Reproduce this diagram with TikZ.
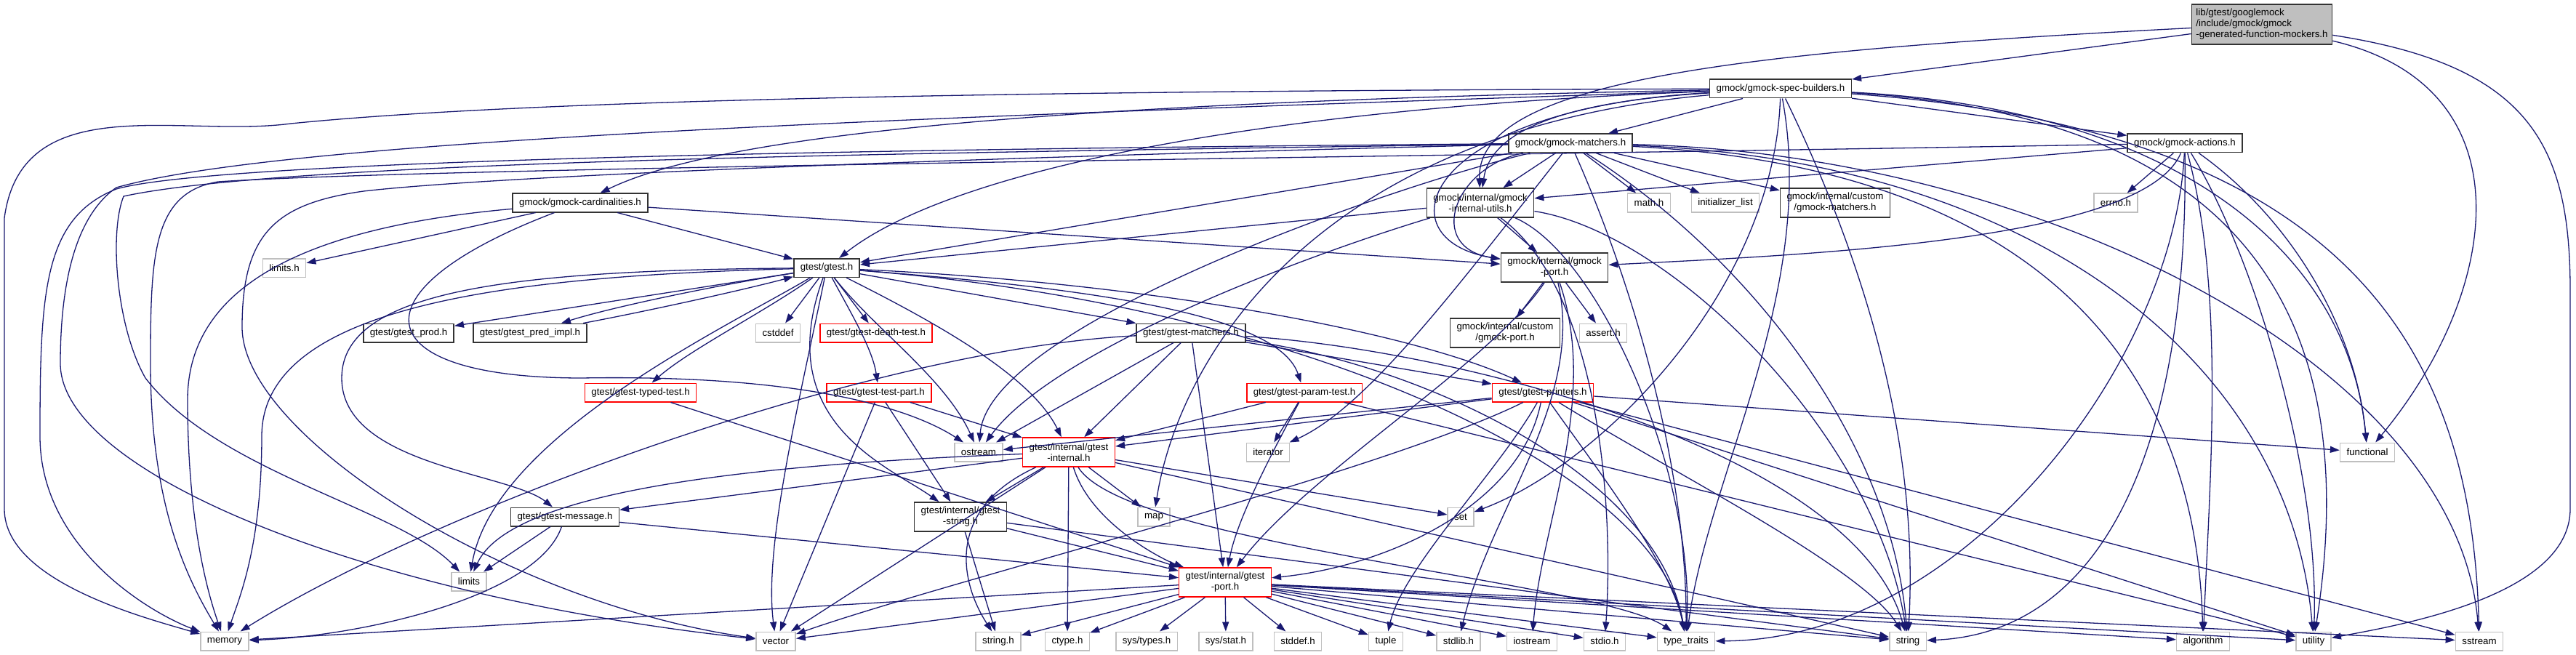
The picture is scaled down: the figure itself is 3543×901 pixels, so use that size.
\documentclass[tikz,border=0pt]{standalone}
\usepackage{fontspec}
\setmainfont{Liberation Sans}
\usepackage{xcolor}
\usetikzlibrary{arrows.meta}
\definecolor{edgeBlue}{RGB}{25,25,112}
\definecolor{sysGray}{RGB}{191,191,191}
\definecolor{rootGray}{RGB}{191,191,191}

\begin{document}
\begin{tikzpicture}[
  x=1pt, y=-1pt,
  box/.style={draw=black!80, line width=1.5pt, fill=white, align=center, inner xsep=9pt, inner ysep=2pt,
    minimum height=25.5pt, font=\fontsize{13.3pt}{15pt}\selectfont},
  sysbox/.style={box, draw=sysGray},
  redbox/.style={box, draw=red},
  twoline/.style={minimum height=40pt},
  rootbox/.style={box, fill=rootGray, align=left, inner xsep=6pt, minimum height=55pt},
  arrow/.style={-{Triangle[length=13pt,width=9pt]}, line width=1.3pt, draw=edgeBlue}
]
\useasboundingbox (0,0) rectangle (3543,901);

\node[rootbox] (rootHeader) at (3111,33.5) {lib/gtest/googlemock\\/include/gmock/gmock\\-generated-function-mockers.h};
\node[box] (specBuilders) at (2449,122) {gmock/gmock-spec-builders.h};
\node[box] (gmockMatchers) at (2160,197) {gmock/gmock-matchers.h};
\node[box] (gmockActions) at (3005,197) {gmock/gmock-actions.h};
\node[box] (cardinalities) at (798,279) {gmock/gmock-cardinalities.h};
\node[box, twoline] (internalUtils) at (2036,279) {gmock/internal/gmock\\-internal-utils.h};
\node[sysbox] (mathH) at (2268,279) {math.h};
\node[sysbox] (initializerList) at (2373,279) {initializer\_list};
\node[box, twoline] (customMatchers) at (2524,279) {gmock/internal/custom\\/gmock-matchers.h};
\node[sysbox] (errnoH) at (2910,279) {errno.h};
\node[sysbox] (limitsH) at (391,368.5) {limits.h};
\node[box] (gtestH) at (1137,368.5) {gtest/gtest.h};
\node[box, twoline] (gmockPort) at (2138,368) {gmock/internal/gmock\\-port.h};
\node[box] (gtestProd) at (562,458) {gtest/gtest\_prod.h};
\node[box] (gtestPredImpl) at (729,458) {gtest/gtest\_pred\_impl.h};
\node[sysbox] (cstddef) at (1070,458) {cstddef};
\node[redbox] (deathTest) at (1205,458) {gtest/gtest-death-test.h};
\node[box] (gtestMatchers) at (1638,458) {gtest/gtest-matchers.h};
\node[box, twoline] (customPort) at (2070,458) {gmock/internal/custom\\/gmock-port.h};
\node[sysbox] (assertH) at (2205,458) {assert.h};
\node[redbox] (typedTest) at (881,540) {gtest/gtest-typed-test.h};
\node[redbox] (testPart) at (1209,540) {gtest/gtest-test-part.h};
\node[redbox] (paramTest) at (1794,540) {gtest/gtest-param-test.h};
\node[redbox] (printers) at (2122,540) {gtest/gtest-printers.h};
\node[sysbox] (ostream) at (1346,622) {ostream};
\node[redbox, twoline] (gtestInternal) at (1470,622) {gtest/internal/gtest\\-internal.h};
\node[sysbox] (iterator) at (1744,622) {iterator};
\node[sysbox] (functional) at (3256,622) {functional};
\node[box] (message) at (777,711) {gtest/gtest-message.h};
\node[box, twoline] (gtestString) at (1321,711) {gtest/internal/gtest\\-string.h};
\node[sysbox] (map) at (1587,711) {map};
\node[sysbox] (set) at (2009,711) {set};
\node[sysbox] (limits) at (645,800) {limits};
\node[redbox, twoline] (gtestPort) at (1685,801) {gtest/internal/gtest\\-port.h};
\node[sysbox] (memory) at (309,882) {memory};
\node[sysbox] (vector) at (1067,882) {vector};
\node[sysbox] (stringH) at (1373,882) {string.h};
\node[sysbox] (ctypeH) at (1468,882) {ctype.h};
\node[sysbox] (sysTypes) at (1577,882) {sys/types.h};
\node[sysbox] (sysStat) at (1686,882) {sys/stat.h};
\node[sysbox] (stddefH) at (1785,882) {stddef.h};
\node[sysbox] (tuple) at (1906,882) {tuple};
\node[sysbox] (stdlibH) at (2006,882) {stdlib.h};
\node[sysbox] (iostream) at (2107,882) {iostream};
\node[sysbox] (stdioH) at (2207,882) {stdio.h};
\node[sysbox] (typeTraits) at (2319,882) {type\_traits};
\node[sysbox] (string) at (2624,882) {string};
\node[sysbox] (algorithm) at (3030,882) {algorithm};
\node[sysbox] (utility) at (3182,882) {utility};
\node[sysbox] (sstream) at (3410,882) {sstream};

\draw[arrow] (rootHeader) -- (specBuilders);
\draw[arrow] (rootHeader) .. controls (2400,70) and (2030,110) .. (internalUtils);
\draw[arrow] (rootHeader) .. controls (3480,120) and (3440,400) .. (functional);
\draw[arrow] (rootHeader) .. controls (3480,90) and (3535,200) .. (3535,400) -- (3535,700) .. controls (3535,820) and (3300,860) .. (utility);

\draw[arrow] (specBuilders) -- (gmockActions);
\draw[arrow] (specBuilders) -- (gmockMatchers);
\draw[arrow] (specBuilders) .. controls (2150,140) and (2050,180) .. (internalUtils);
\draw[arrow] (specBuilders) .. controls (1950,150) and (1900,330) .. (gmockPort);
\draw[arrow] (specBuilders) .. controls (1700,150) and (1300,240) .. (gtestH);
\draw[arrow] (specBuilders) .. controls (1500,140) and (1000,180) .. (cardinalities);
\draw[arrow] (specBuilders) .. controls (1800,180) and (1620,500) .. (map);
\draw[arrow] (specBuilders) .. controls (2440,400) and (2200,640) .. (set);
\draw[arrow] (specBuilders) .. controls (2500,400) and (2350,650) .. (typeTraits);
\draw[arrow] (specBuilders) .. controls (2560,350) and (2640,600) .. (string);
\draw[arrow] (specBuilders) .. controls (3000,150) and (3230,350) .. (functional);
\draw[arrow] (specBuilders) .. controls (3100,160) and (3250,450) .. (utility);
\draw[arrow] (specBuilders) .. controls (3250,180) and (3400,500) .. (sstream);
\draw[arrow] (specBuilders) .. controls (1300,125) and (700,140) .. (400,170) .. controls (250,190) and (30,120) .. (6,300) -- (6,700) .. controls (6,800) and (200,850) .. (memory);
\draw[arrow] (specBuilders) .. controls (1300,160) and (400,190) .. (160,258) .. controls (100,300) and (83,400) .. (83,500) .. controls (83,650) and (500,820) .. (vector);

\draw[arrow] (gmockMatchers) -- (internalUtils);
\draw[arrow] (gmockMatchers) -- (mathH);
\draw[arrow] (gmockMatchers) -- (initializerList);
\draw[arrow] (gmockMatchers) -- (customMatchers);
\draw[arrow] (gmockMatchers) .. controls (2000,230) and (1960,340) .. (gmockPort);
\draw[arrow] (gmockMatchers) -- (gtestH);
\draw[arrow] (gmockMatchers) .. controls (1900,260) and (1360,450) .. (ostream);
\draw[arrow] (gmockMatchers) .. controls (2000,400) and (1880,560) .. (iterator);
\draw[arrow] (gmockMatchers) .. controls (2250,400) and (2320,650) .. (typeTraits);
\draw[arrow] (gmockMatchers) .. controls (2400,350) and (2600,600) .. (string);
\draw[arrow] (gmockMatchers) .. controls (2800,230) and (3020,500) .. (algorithm);
\draw[arrow] (gmockMatchers) .. controls (2800,220) and (3150,500) .. (utility);
\draw[arrow] (gmockMatchers) .. controls (2800,210) and (3380,500) .. (sstream);
\draw[arrow] (gmockMatchers) .. controls (1200,205) and (300,220) .. (160,260) .. controls (60,300) and (55,400) .. (55,600) .. controls (55,750) and (200,840) .. (memory);
\draw[arrow] (gmockMatchers) .. controls (1400,215) and (700,240) .. (500,263) .. controls (380,280) and (333,320) .. (333,450) .. controls (333,600) and (700,830) .. (vector);
\draw[arrow] (gmockMatchers) .. controls (1300,210) and (400,220) .. (170,270) .. controls (150,320) and (160,450) .. (200,520) .. controls (300,650) and (550,700) .. (limits);

\draw[arrow] (gmockActions) -- (errnoH);
\draw[arrow] (gmockActions) -- (internalUtils);
\draw[arrow] (gmockActions) .. controls (2950,330) and (2500,350) .. (gmockPort);
\draw[arrow] (gmockActions) .. controls (3060,400) and (3040,650) .. (algorithm);
\draw[arrow] (gmockActions) .. controls (3150,300) and (3240,450) .. (functional);
\draw[arrow] (gmockActions) .. controls (3100,350) and (3190,650) .. (utility);
\draw[arrow] (gmockActions) .. controls (3010,600) and (2900,870) .. (string);
\draw[arrow] (gmockActions) .. controls (2990,500) and (2700,880) .. (typeTraits);
\draw[arrow] (gmockActions) .. controls (2000,215) and (600,230) .. (300,250) .. controls (210,265) and (207,350) .. (207,500) .. controls (207,700) and (260,800) .. (memory);

\draw[arrow] (cardinalities) -- (limitsH);
\draw[arrow] (cardinalities) -- (gtestH);
\draw[arrow] (cardinalities) -- (gmockPort);
\draw[arrow] (cardinalities) .. controls (480,400) and (500,520) .. (800,520) .. controls (1100,515) and (1250,560) .. (ostream);
\draw[arrow] (cardinalities) .. controls (450,310) and (258,380) .. (258,550) .. controls (258,700) and (280,800) .. (memory);

\draw[arrow] (gtestH) -- (gtestProd);
\draw[arrow] (gtestH) .. controls (1000,390) and (850,420) .. (gtestPredImpl);
\draw[arrow] (gtestPredImpl) .. controls (870,432) and (1010,402) .. (gtestH);
\draw[arrow] (gtestH) -- (cstddef);
\draw[arrow] (gtestH) -- (deathTest);
\draw[arrow] (gtestH) .. controls (1050,430) and (950,480) .. (typedTest);
\draw[arrow] (gtestH) .. controls (1170,430) and (1200,480) .. (testPart);
\draw[arrow] (gtestH) -- (gtestMatchers);
\draw[arrow] (gtestH) .. controls (1550,400) and (1760,440) .. (paramTest);
\draw[arrow] (gtestH) .. controls (1600,390) and (1950,460) .. (printers);
\draw[arrow] (gtestH) .. controls (1300,450) and (1420,520) .. (gtestInternal);
\draw[arrow] (gtestH) .. controls (1060,580) and (1220,640) .. (gtestString);
\draw[arrow] (gtestH) .. controls (1200,450) and (1300,520) .. (ostream);
\draw[arrow] (gtestH) .. controls (1000,450) and (680,600) .. (limits);
\draw[arrow] (gtestH) .. controls (1100,550) and (1050,750) .. (vector);
\draw[arrow] (gtestH) .. controls (1800,420) and (2280,650) .. (typeTraits);
\draw[arrow] (gtestH) .. controls (700,372) and (470,400) .. (470,520) .. controls (470,640) and (700,650) .. (message);
\draw[arrow] (gtestH) .. controls (700,380) and (360,420) .. (360,600) .. controls (360,750) and (330,820) .. (memory);

\draw[arrow] (internalUtils) -- (gtestH);
\draw[arrow] (internalUtils) -- (gmockPort);
\draw[arrow] (internalUtils) .. controls (1800,350) and (1450,480) .. (ostream);
\draw[arrow] (internalUtils) .. controls (2200,400) and (2220,700) .. (stdioH);
\draw[arrow] (internalUtils) .. controls (2300,320) and (2580,600) .. (string);
\draw[arrow] (internalUtils) .. controls (2200,350) and (2330,650) .. (typeTraits);

\draw[arrow] (gmockPort) -- (customPort);
\draw[arrow] (gmockPort) -- (assertH);
\draw[arrow] (gmockPort) .. controls (2180,550) and (2050,700) .. (stdlibH);
\draw[arrow] (gmockPort) .. controls (2200,550) and (2120,720) .. (iostream);
\draw[arrow] (gmockPort) .. controls (2050,500) and (1800,650) .. (gtestPort);

\draw[arrow] (gtestMatchers) -- (printers);
\draw[arrow] (gtestMatchers) -- (gtestInternal);
\draw[arrow] (gtestMatchers) -- (ostream);
\draw[arrow] (gtestMatchers) -- (gtestPort);
\draw[arrow] (gtestMatchers) .. controls (1200,480) and (600,700) .. (memory);
\draw[arrow] (gtestMatchers) .. controls (2000,480) and (2550,620) .. (string);
\draw[arrow] (gtestMatchers) .. controls (1950,500) and (2280,650) .. (typeTraits);

\draw[arrow] (typedTest) -- (gtestPort);

\draw[arrow] (testPart) -- (vector);
\draw[arrow] (testPart) -- (gtestString);
\draw[arrow] (testPart) -- (gtestInternal);

\draw[arrow] (paramTest) -- (gtestInternal);
\draw[arrow] (paramTest) -- (iterator);
\draw[arrow] (paramTest) .. controls (1740,640) and (1700,720) .. (gtestPort);
\draw[arrow] (paramTest) -- (utility);

\draw[arrow] (printers) -- (functional);
\draw[arrow] (printers) -- (ostream);
\draw[arrow] (printers) -- (gtestInternal);
\draw[arrow] (printers) .. controls (1900,650) and (1300,800) .. (vector);
\draw[arrow] (printers) .. controls (2090,700) and (1900,780) .. (gtestPort);
\draw[arrow] (printers) .. controls (2060,650) and (1930,780) .. (tuple);
\draw[arrow] (printers) .. controls (2300,650) and (2560,780) .. (string);
\draw[arrow] (printers) .. controls (2200,650) and (2300,780) .. (typeTraits);
\draw[arrow] (printers) -- (utility);
\draw[arrow] (printers) -- (sstream);

\draw[arrow] (gtestInternal) -- (message);
\draw[arrow] (gtestInternal) .. controls (1000,640) and (700,680) .. (limits);
\draw[arrow] (gtestInternal) -- (vector);
\draw[arrow] (gtestInternal) -- (gtestString);
\draw[arrow] (gtestInternal) .. controls (1300,700) and (1320,800) .. (stringH);
\draw[arrow] (gtestInternal) -- (ctypeH);
\draw[arrow] (gtestInternal) -- (map);
\draw[arrow] (gtestInternal) -- (set);
\draw[arrow] (gtestInternal) .. controls (1500,720) and (1600,770) .. (gtestPort);
\draw[arrow] (gtestInternal) -- (string);
\draw[arrow] (gtestInternal) .. controls (1550,750) and (2200,800) .. (typeTraits);

\draw[arrow] (message) -- (limits);
\draw[arrow] (message) .. controls (740,820) and (500,875) .. (memory);
\draw[arrow] (message) -- (gtestPort);

\draw[arrow] (gtestString) -- (stringH);
\draw[arrow] (gtestString) -- (gtestPort);
\draw[arrow] (gtestString) -- (string);

\draw[arrow] (gtestPort) -- (memory);
\draw[arrow] (gtestPort) -- (vector);
\draw[arrow] (gtestPort) -- (stringH);
\draw[arrow] (gtestPort) -- (ctypeH);
\draw[arrow] (gtestPort) -- (sysTypes);
\draw[arrow] (gtestPort) -- (sysStat);
\draw[arrow] (gtestPort) -- (stddefH);
\draw[arrow] (gtestPort) -- (tuple);
\draw[arrow] (gtestPort) -- (stdlibH);
\draw[arrow] (gtestPort) -- (iostream);
\draw[arrow] (gtestPort) -- (stdioH);
\draw[arrow] (gtestPort) -- (typeTraits);
\draw[arrow] (gtestPort) -- (string);
\draw[arrow] (gtestPort) -- (algorithm);
\draw[arrow] (gtestPort) -- (utility);
\draw[arrow] (gtestPort) -- (sstream);
\end{tikzpicture}
\end{document}
